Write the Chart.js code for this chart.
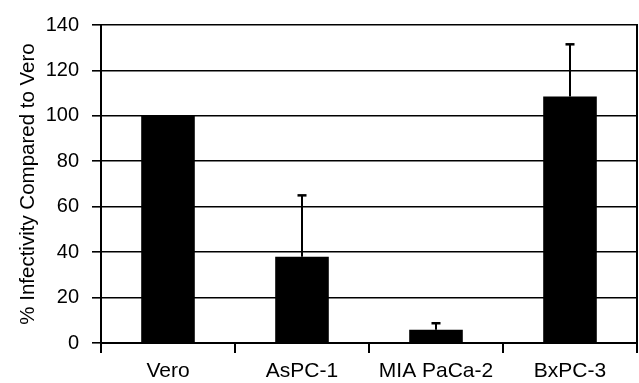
<!DOCTYPE html>
<html>
<head>
<meta charset="utf-8">
<script src="https://cdn.jsdelivr.net/npm/chart.js@4/dist/chart.umd.min.js"></script>
<style>
html,body{margin:0;padding:0;background:#fff;}
#wrap{width:639px;height:383px;position:relative;}
</style>
</head>
<body>
<div id="wrap"><canvas id="c" width="639" height="383"></canvas></div>
<script>
const categories = ["Vero", "AsPC-1", "MIA PaCa-2", "BxPC-3"];
const infectivity = [100, 38, 5.8, 108.5];
const errorUpper = [0, 27, 2.9, 23];
const yTicks = [0, 20, 40, 60, 80, 100, 120, 140];

const FONT = "'Liberation Sans', Arial, Helvetica, sans-serif";

const errorBars = {
  id: 'errorBars',
  afterDatasetsDraw(chart) {
    const ctx = chart.ctx;
    const xs = chart.scales.x, ys = chart.scales.y;
    ctx.save();
    ctx.strokeStyle = '#000';
    ctx.lineCap = 'butt';
    infectivity.forEach((v, i) => {
      const e = errorUpper[i];
      if (!e) return;
      const x = xs.getPixelForValue(i);
      const y0 = ys.getPixelForValue(v);
      const y1 = ys.getPixelForValue(v + e);
      ctx.lineWidth = 2;
      ctx.beginPath();
      ctx.moveTo(x, y0);
      ctx.lineTo(x, y1);
      ctx.stroke();
      ctx.lineWidth = 2.5;
      ctx.beginPath();
      ctx.moveTo(x - 4.5, y1);
      ctx.lineTo(x + 4.5, y1);
      ctx.stroke();
    });
    const a = chart.chartArea;
    ctx.lineWidth = 2;
    ctx.beginPath();
    ctx.moveTo(a.right, a.top - 1);
    ctx.lineTo(a.right, a.bottom + 1);
    ctx.stroke();
    ctx.restore();
  }
};

new Chart(document.getElementById('c'), {
  type: 'bar',
  data: {
    labels: categories,
    datasets: [{
      data: infectivity,
      backgroundColor: '#000',
      borderWidth: 0,
      categoryPercentage: 1.0,
      barPercentage: 0.4
    }]
  },
  options: {
    responsive: false,
    animation: false,
    devicePixelRatio: 1,
    layout: { padding: { left: 0, right: 2, top: 22, bottom: 0 } },
    plugins: { legend: { display: false }, tooltip: { enabled: false } },
    scales: {
      x: {
        offset: true,
        grid: { display: true, drawOnChartArea: false, drawTicks: true, tickLength: 10, color: '#000', lineWidth: 2, offset: true },
        border: { display: true, color: '#000', width: 2 },
        ticks: { color: '#000', font: { family: FONT, size: 21 }, padding: 6, maxRotation: 0 },
        afterFit(s) { s.height = 40; }
      },
      y: {
        min: 0, max: 140,
        afterBuildTicks(s) { s.ticks = yTicks.map(v => ({ value: v })); },
        grid: { color: '#000', lineWidth: 1.6, drawTicks: true, tickLength: 9 },
        border: { display: true, color: '#000', width: 2 },
        ticks: { color: '#000', font: { family: FONT, size: 20 }, padding: 13 },
        title: { display: true, text: '% Infectivity Compared to Vero', color: '#000', font: { family: FONT, size: 20.5 }, padding: { top: 16, bottom: 0 } },
        afterFit(s) { s.width = 101; }
      }
    }
  },
  plugins: [errorBars]
});
</script>
</body>
</html>
